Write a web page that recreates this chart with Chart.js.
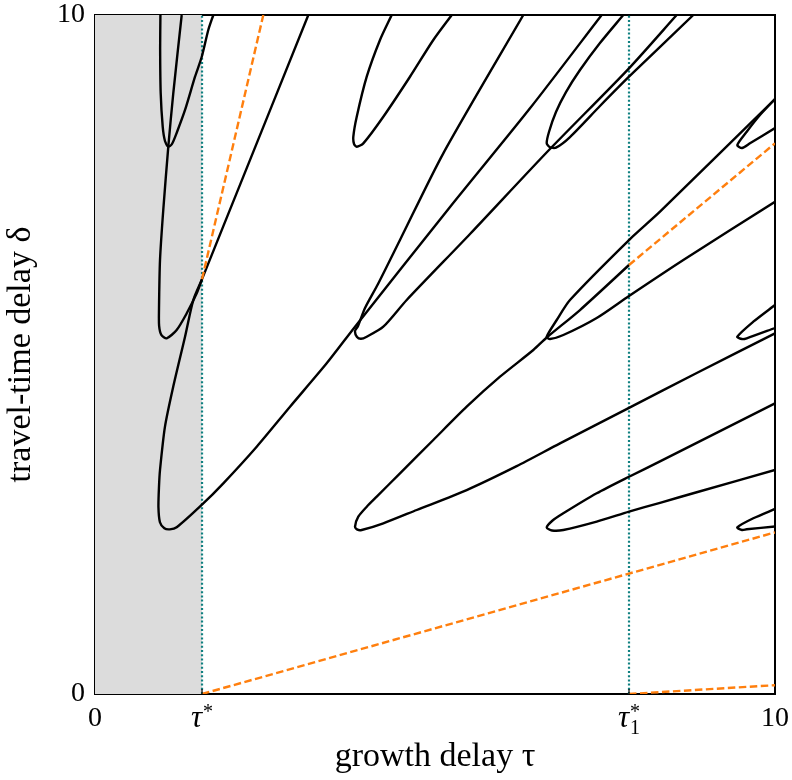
<!DOCTYPE html>
<html>
<head>
<meta charset="utf-8">
<script src="https://cdn.jsdelivr.net/npm/chart.js@4.4.1/dist/chart.umd.min.js"></script>
<style>
  html, body { margin: 0; padding: 0; background: #fff; }
  #wrap { width: 792px; height: 780px; }
</style>
</head>
<body>
<div id="wrap"><canvas id="chart" width="792" height="780"></canvas></div>
<script>
const tauStar = 1.574;
const tauStar1 = 7.853;
const xTicks = [0, tauStar, tauStar1, 10];
const yTicks = [0, 10];

// stability boundary curves, [tau, delta] pairs read along each branch
const curveA1 = [[1.574, 6.11], [1.446, 5.803], [1.324, 5.262], [1.151, 4.528], [1.029, 3.937], [0.956, 3.299],
  [0.941, 3.053], [0.933, 2.75], [0.955, 2.53], [1.02, 2.44], [1.10, 2.425], [1.201, 2.455], [1.569, 2.784],
  [1.887, 3.103], [2.378, 3.642], [2.868, 4.231], [3.407, 4.870], [3.824, 5.409],
  [5.221, 7.172], [6.397, 8.626], [7.451, 10.0]];
const curveA2 = [[1.275, 10.0], [1.151, 8.847], [1.078, 8.060], [1.004, 7.128], [0.956, 6.392], [0.941, 5.655],
  [0.943, 5.42], [0.975, 5.29], [1.054, 5.239], [1.201, 5.361], [1.349, 5.607], [1.496, 5.901], [1.574, 6.11],
  [2.181, 7.619], [3.137, 10.0]];
const curveA3 = [[0.962, 10.0], [0.958, 9.5], [0.966, 8.851], [0.996, 8.351], [1.029, 8.144], [1.078, 8.060],
  [1.132, 8.100], [1.206, 8.277], [1.324, 8.601], [1.471, 9.091], [1.569, 9.381], [1.666, 9.779], [1.740, 10.0]];
const curveB1 = [[7.853, 6.318], [7.132, 5.655], [6.643, 5.250], [6.446, 5.066], [5.956, 4.673], [5.466, 4.231],
  [4.975, 3.741], [4.485, 3.250], [4.143, 2.906], [3.996, 2.758], [3.872, 2.611], [3.824, 2.464], [3.86, 2.42],
  [3.922, 2.415], [4.240, 2.514], [4.731, 2.710], [5.466, 3.004], [6.201, 3.356], [6.838, 3.692],
  [7.853, 4.214], [8.849, 4.727], [10.0, 5.312]];
const curveB2 = [[6.299, 10.0], [5.122, 7.963], [4.485, 6.686], [4.162, 6.038], [3.971, 5.685], [3.868, 5.420],
  [3.824, 5.346], [3.853, 5.258], [3.912, 5.231], [3.996, 5.262], [4.240, 5.409], [4.584, 5.803],
  [5.515, 6.775], [6.662, 7.997], [7.853, 9.215], [8.554, 10.0]];
const curveB3 = [[4.363, 10.0], [4.191, 9.632], [3.996, 9.091], [3.849, 8.502], [3.799, 8.208], [3.81, 8.10],
  [3.849, 8.060], [3.946, 8.110], [4.240, 8.502], [4.632, 9.091], [4.975, 9.632], [5.246, 10.0]];
const curveC1 = [[10.0, 4.281], [8.309, 3.425], [7.853, 3.200], [7.378, 2.956], [6.887, 2.661], [6.721, 2.548],
  [6.643, 2.452], [6.721, 2.408], [6.887, 2.415], [7.378, 2.538], [7.853, 2.685], [8.309, 2.816],
  [8.849, 2.971], [10.0, 3.299]];
const curveC2 = [[10.0, 8.763], [8.309, 7.103], [7.853, 6.686], [6.985, 5.803], [6.790, 5.508], [6.643, 5.262],
  [6.691, 5.228], [6.887, 5.287], [7.378, 5.538], [7.853, 5.862], [8.652, 6.392], [10.0, 7.250]];
const curveC3 = [[7.769, 10.0], [7.426, 9.587], [7.132, 9.190], [6.926, 8.865], [6.779, 8.571], [6.676, 8.277],
  [6.643, 8.110], [6.691, 8.052], [6.779, 8.047], [6.985, 8.203], [7.426, 8.660], [7.853, 9.091], [8.799, 10.0]];
const curveD1 = [[10.0, 2.725], [9.681, 2.588], [9.446, 2.455], [9.515, 2.415], [9.584, 2.426], [10.0, 2.467]];
const curveD2 = [[10.0, 5.729], [9.681, 5.483], [9.446, 5.262], [9.515, 5.228], [9.584, 5.239], [10.0, 5.390]];
const curveD3 = [[10.0, 8.763], [9.779, 8.527], [9.584, 8.281], [9.446, 8.085], [9.515, 8.041], [9.632, 8.110],
  [10.0, 8.336]];

// dashed asymptotes
const guideUpper = [[tauStar, 6.11], [2.475, 10.0]];
const guideUpper1 = [[tauStar1, 6.318], [10.0, 8.11]];
const guideLower = [[tauStar, 0], [10.0, 2.38]];
const guideLower1 = [[tauStar1, 0], [10.0, 0.13]];

const serif = "'Liberation Serif', 'DejaVu Serif', serif";
const pts = (arr) => arr.map(([x, y]) => ({ x, y }));

const curves = [curveA1, curveA2, curveA3, curveB1, curveB2, curveB3, curveC1, curveC2, curveC3,
  curveD1, curveD2, curveD3].map((c) => ({
  data: pts(c),
  showLine: true,
  borderColor: '#000',
  borderWidth: 2.4,
  pointRadius: 0,
  tension: 0.25,
  order: 2,
}));

const guides = [guideUpper, guideUpper1, guideLower, guideLower1].map((g) => ({
  data: pts(g),
  showLine: true,
  borderColor: '#ff7f0e',
  borderWidth: 2.4,
  borderDash: [7.5, 3.5],
  pointRadius: 0,
  order: 1,
}));

const verticals = [tauStar, tauStar1].map((t) => ({
  data: [{ x: t, y: 0 }, { x: t, y: 10 }],
  showLine: true,
  borderColor: '#0f8080',
  borderWidth: 2.2,
  borderDash: [2, 2.2],
  pointRadius: 0,
  order: 3,
}));

const shaded = {
  data: [{ x: 0, y: 10 }, { x: tauStar, y: 10 }],
  showLine: true,
  borderWidth: 0,
  pointRadius: 0,
  fill: 'origin',
  backgroundColor: '#dcdcdc',
  order: 4,
};

// tau* labels with sub/superscripts and inward tick marks
const tauLabels = {
  id: 'tauLabels',
  afterDraw(chart) {
    const { ctx, chartArea, scales: { x } } = chart;
    ctx.save();
    ctx.strokeStyle = '#000';
    ctx.lineWidth = 1.2;
    [tauStar, tauStar1].forEach((v) => {
      const px = x.getPixelForValue(v);
      ctx.beginPath();
      ctx.moveTo(px, chartArea.bottom);
      ctx.lineTo(px, chartArea.bottom - 5);
      ctx.stroke();
    });
    ctx.fillStyle = '#000';
    ctx.textBaseline = 'alphabetic';
    ctx.textAlign = 'left';
    const base = chartArea.bottom + 33;
    [[tauStar, null], [tauStar1, '1']].forEach(([v, sub]) => {
      const px = x.getPixelForValue(v);
      ctx.font = `italic 31px ${serif}`;
      const w = ctx.measureText('τ').width;
      const left = px - (w + 11) / 2;
      ctx.fillText('τ', left, base);
      ctx.font = `20px ${serif}`;
      ctx.fillText('*', left + w + 1, base - 9);
      if (sub) ctx.fillText(sub, left + w + 1, base + 7);
    });
    ctx.restore();
  },
};

const frame = {
  display: true,
  ticks: { display: false },
  grid: { display: false, drawTicks: false },
  border: { display: true, color: '#000', width: 2 },
};

const noPad = (s) => {
  s.paddingTop = 0;
  s.paddingBottom = 0;
  s.paddingLeft = 0;
  s.paddingRight = 0;
};

new Chart(document.getElementById('chart'), {
  type: 'scatter',
  data: { datasets: [shaded, ...verticals, ...curves, ...guides] },
  plugins: [tauLabels],
  options: {
    responsive: false,
    animation: false,
    layout: { padding: { top: 15, right: 17, left: 0, bottom: 0 } },
    plugins: { legend: { display: false }, tooltip: { enabled: false } },
    scales: {
      x: {
        type: 'linear',
        min: 0,
        max: 10,
        afterBuildTicks: (s) => { s.ticks = xTicks.map((value) => ({ value })); },
        afterFit: (s) => { s.height = 86; noPad(s); },
        ticks: {
          autoSkip: false,
          maxRotation: 0,
          padding: 8,
          color: '#000',
          font: { family: serif, size: 28 },
          callback: (v) => (v === 0 || v === 10 ? String(v) : ''),
        },
        grid: { display: false, drawTicks: false },
        border: { display: true, color: '#000', width: 2 },
        title: {
          display: true,
          text: 'growth delay τ',
          color: '#000',
          font: { family: serif, size: 34 },
          padding: { top: 0, bottom: 3 },
        },
      },
      y: {
        type: 'linear',
        min: 0,
        max: 10,
        afterBuildTicks: (s) => { s.ticks = yTicks.map((value) => ({ value })); },
        afterFit: (s) => { s.width = 95; noPad(s); },
        ticks: {
          padding: 10,
          color: '#000',
          font: { family: serif, size: 28 },
        },
        grid: { display: false, drawTicks: false },
        border: { display: true, color: '#000', width: 2 },
        title: {
          display: true,
          text: 'travel-time delay δ',
          color: '#000',
          font: { family: serif, size: 34 },
          padding: { top: 1, bottom: 0 },
        },
      },
      xTop: { ...frame, type: 'linear', position: 'top', min: 0, max: 10, afterFit: (s) => { s.height = 0; noPad(s); } },
      yRight: { ...frame, type: 'linear', position: 'right', min: 0, max: 10, afterFit: (s) => { s.width = 0; noPad(s); } },
    },
  },
});
</script>
</body>
</html>
